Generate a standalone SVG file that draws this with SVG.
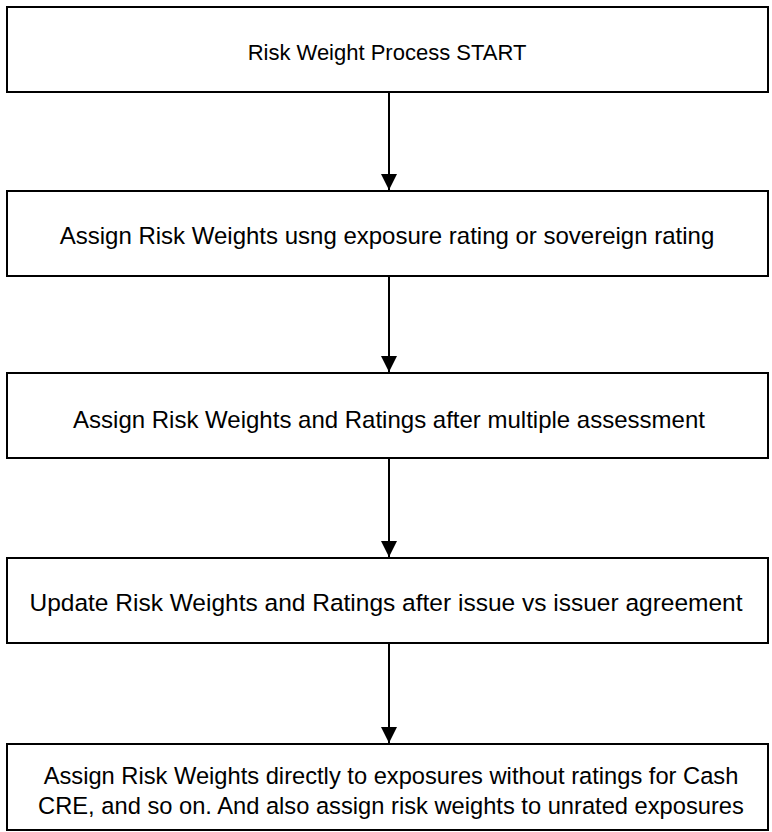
<svg xmlns="http://www.w3.org/2000/svg" width="772" height="832" viewBox="0 0 772 832">
<style>
.box{fill:#fff;stroke:#000;stroke-width:2}
.t{font-family:"Liberation Sans",Arial,sans-serif;font-size:24px;fill:#000;text-anchor:middle}
.c{stroke:#000;stroke-width:2;fill:none}
</style>
<defs>
<marker id="ah" markerUnits="userSpaceOnUse" markerWidth="16" markerHeight="16" refX="16" refY="8" orient="auto" viewBox="0 0 16 16">
<path d="M0,0 L16,8 L0,16 Z" fill="#000"/>
</marker>
</defs>
<rect width="772" height="832" fill="#fff"/>
<g id="connectors">
<line class="c" x1="389" y1="92" x2="389" y2="190" marker-end="url(#ah)"/>
<line class="c" x1="389" y1="276" x2="389" y2="372" marker-end="url(#ah)"/>
<line class="c" x1="389" y1="458" x2="389" y2="557" marker-end="url(#ah)"/>
<line class="c" x1="389" y1="643" x2="389" y2="743" marker-end="url(#ah)"/>
</g>
<g id="n1"><rect class="box" x="7" y="7" width="761" height="85"/><text class="t" x="387" y="60" style="font-size:22px">Risk Weight Process START</text></g>
<g id="n2"><rect class="box" x="7" y="191" width="761" height="85"/><text class="t" x="387" y="244">Assign Risk Weights usng exposure rating or sovereign rating</text></g>
<g id="n3"><rect class="box" x="7" y="373" width="761" height="85"/><text class="t" x="389" y="428">Assign Risk Weights and Ratings after multiple assessment</text></g>
<g id="n4"><rect class="box" x="7" y="558" width="761" height="85"/><text class="t" x="386" y="611" style="font-size:24.5px">Update Risk Weights and Ratings after issue vs issuer agreement</text></g>
<g id="n5"><rect class="box" x="7" y="744" width="761" height="86"/><text class="t" x="391" y="784" style="font-size:23.7px">Assign Risk Weights directly to exposures without ratings for Cash</text><text class="t" x="391" y="814" style="font-size:23.7px">CRE, and so on. And also assign risk weights to unrated exposures</text></g>
</svg>
